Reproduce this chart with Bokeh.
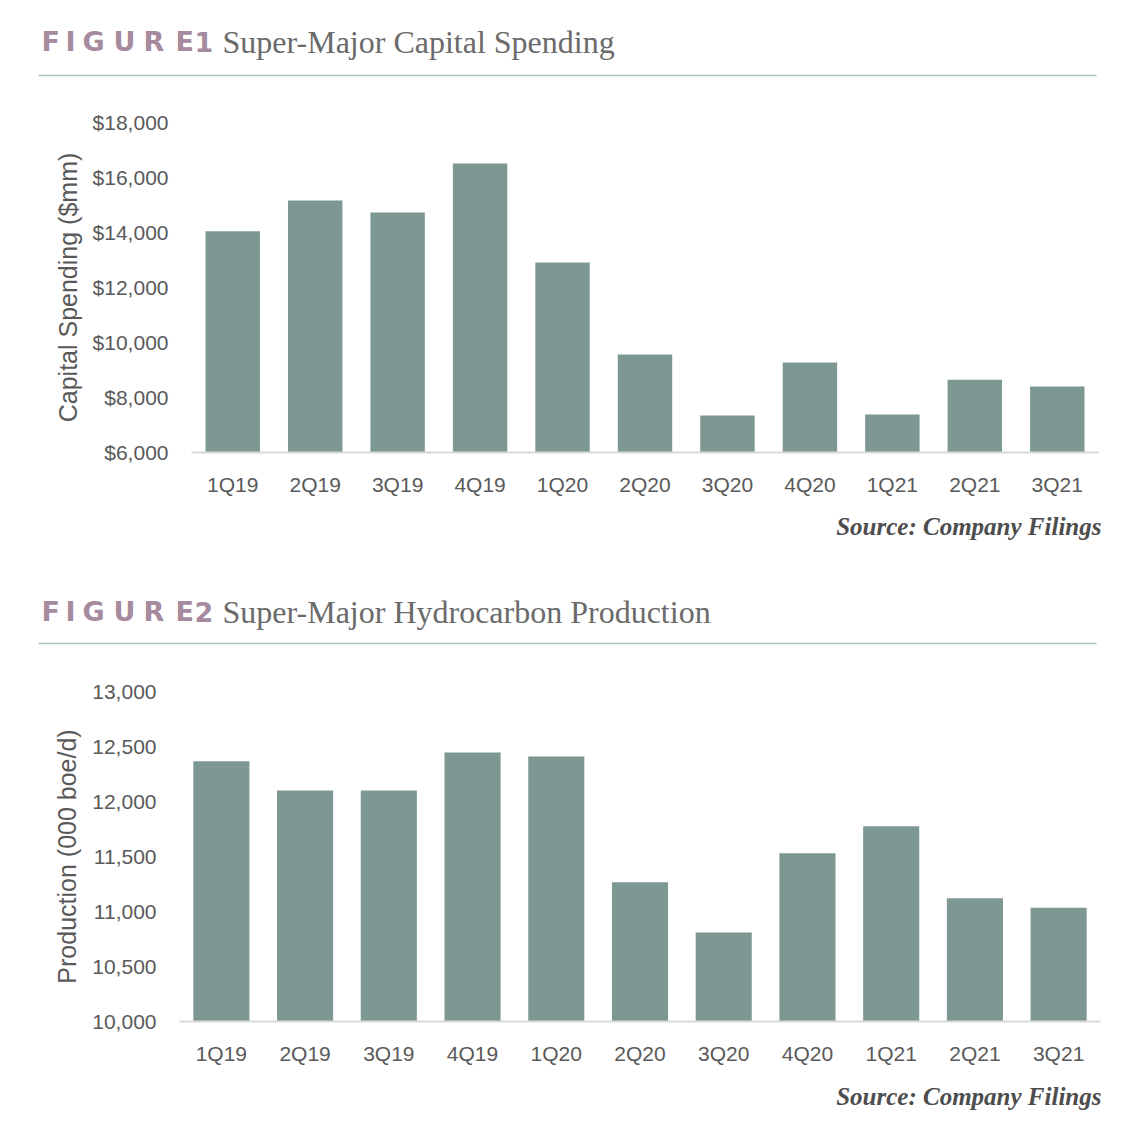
from bokeh.plotting import figure
from bokeh.models import Range1d, FactorRange, NumeralTickFormatter, FixedTicker
from bokeh.layouts import column
from bokeh.embed import file_html
from bokeh.resources import INLINE
from bokeh.core.properties import value

# ---- data ----
quarters = ["1Q19", "2Q19", "3Q19", "4Q19", "1Q20", "2Q20", "3Q20", "4Q20", "1Q21", "2Q21", "3Q21"]
capex = [14050, 15160, 14730, 16510, 12910, 9560, 7350, 9270, 7380, 8650, 8400]
production = [12365, 12100, 12100, 12445, 12410, 11265, 10810, 11530, 11775, 11120, 11035]
capex_ticks = [6000, 8000, 10000, 12000, 14000, 16000, 18000]
prod_ticks = [10000, 10500, 11000, 11500, 12000, 12500, 13000]
fig_word = "FIGURE"
fig1_num = "1"
fig1_title = "Super-Major Capital Spending"
fig2_num = "2"
fig2_title = "Super-Major Hydrocarbon Production"
capex_axis = "Capital Spending ($mm)"
prod_axis = "Production (000 boe/d)"
source_text = "Source: Company Filings"

W = 1132
BAR = "#7d9893"
MAUVE = "#a68a9e"
TITLE_GRAY = "#6a6a6a"
TICK_GRAY = "#595959"
RULE = "#a9bfba"
# letter-spaced "FIGURE n" label: left x of each letter (layout)
LETTER_X = [41, 65, 82, 113, 143, 175, 194]


def text_fig(h):
    p = figure(width=W, height=h, x_range=Range1d(0, W), y_range=Range1d(h, 0),
               output_backend="svg", toolbar_location=None, min_border=0,
               x_axis_type=None, y_axis_type=None, outline_line_color=None,
               frame_align=False)
    p.background_fill_color = "white"
    p.border_fill_color = "white"
    return p


def header(p, num, title, y, line_y):
    letters = list(fig_word) + [num]
    p.text(x=LETTER_X, y=[y] * len(letters), text=letters, text_font=value("DejaVu Sans"),
           text_font_style="bold", text_font_size="27px", text_color=MAUVE,
           text_baseline="alphabetic", text_align="left")
    p.text(x=[222], y=[y], text=[title], text_font=value("Liberation Serif"),
           text_font_size="32px", text_color=TITLE_GRAY,
           text_baseline="alphabetic", text_align="left")
    p.segment(x0=[38], y0=[line_y], x1=[1096], y1=[line_y], line_color=RULE, line_width=1.5)


def source(p, y):
    p.text(x=[1101], y=[y], text=[source_text], text_font=value("Liberation Serif"),
           text_font_style="bold italic", text_font_size="25px", text_color="#4d4d4d",
           text_baseline="alphabetic", text_align="right")


def bar_fig(values, lo, hi, ticks, fmt, label, left, right, top, bottom, width):
    p = figure(width=W, height=415, x_range=FactorRange(*quarters), y_range=Range1d(lo, hi),
               output_backend="svg", toolbar_location=None,
               min_border_left=left, min_border_right=right,
               min_border_top=top, min_border_bottom=bottom, outline_line_color=None,
               frame_align=False)
    p.vbar(x=quarters, top=values, bottom=lo, width=width, color=BAR, line_color=None)
    p.xgrid.visible = False
    p.ygrid.visible = False
    p.yaxis.ticker = FixedTicker(ticks=ticks)
    p.yaxis.formatter = NumeralTickFormatter(format=fmt)
    p.yaxis.axis_line_color = None
    p.yaxis.major_tick_line_color = None
    p.yaxis.minor_tick_line_color = None
    p.yaxis.major_label_text_font = "Liberation Sans"
    p.yaxis.major_label_text_font_size = "21px"
    p.yaxis.major_label_text_color = TICK_GRAY
    p.yaxis.major_label_standoff = 17
    p.yaxis.axis_label = label
    p.yaxis.axis_label_text_font = "Liberation Sans"
    p.yaxis.axis_label_text_font_size = "25px"
    p.yaxis.axis_label_text_font_style = "normal"
    p.yaxis.axis_label_text_color = TICK_GRAY
    p.yaxis.axis_label_standoff = 8
    p.xaxis.axis_line_color = "#d9d9d9"
    p.xaxis.axis_line_width = 2
    p.xaxis.major_tick_line_color = None
    p.xaxis.minor_tick_line_color = None
    p.xaxis.major_label_text_font = "Liberation Sans"
    p.xaxis.major_label_text_font_size = "21px"
    p.xaxis.major_label_text_color = TICK_GRAY
    p.xaxis.major_label_standoff = 14
    return p


# Header 1
hA = text_fig(95)
header(hA, fig1_num, fig1_title, 41, 75)

# Chart 1
c1 = bar_fig(capex, 6000, 18000, capex_ticks, "$0,0", capex_axis, 191, 34, 27, 58, 0.66)

# Source 1 + header 2
hC = text_fig(150)
source(hC, 16)
header(hC, fig2_num, fig2_title, 101, 133)

# Chart 2
c2 = bar_fig(production, 10000, 13000, prod_ticks, "0,0", prod_axis, 179, 32, 31, 54, 0.67)

# Source 2
hE = text_fig(45)
source(hE, 21)

layout = column(hA, c1, hC, c2, hE, spacing=0)
open("out.html", "w").write(file_html(layout, INLINE))
